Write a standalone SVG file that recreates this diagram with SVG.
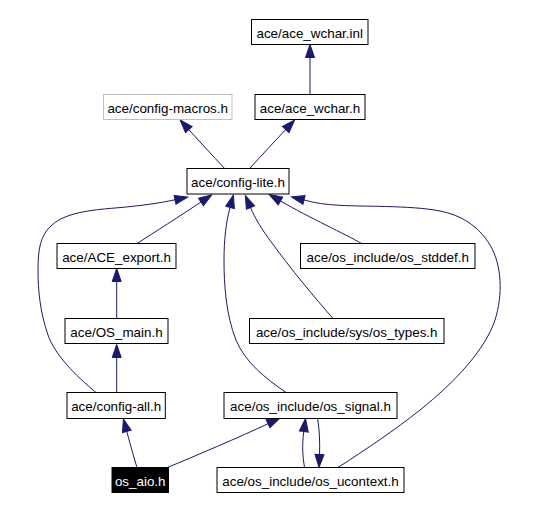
<svg xmlns="http://www.w3.org/2000/svg" width="544" height="510" viewBox="0 0 544 510">
<defs>
<marker id="ah" markerUnits="userSpaceOnUse" markerWidth="14" markerHeight="10" viewBox="0 0 14 10" refX="0" refY="5" orient="auto" overflow="visible">
<path d="M0,0.5 L13,5 L0,9.5 z" fill="#191970" stroke="#191970" stroke-width="1"/>
</marker>
<style>
.n rect{fill:#fff;stroke:#000;stroke-width:1}
.n text{font-family:"Liberation Sans",Arial,sans-serif;font-size:13.4px;text-anchor:middle;fill:#000}
#config_macros rect{stroke:#bfbfbf}
#os_aio rect{fill:#000}
#os_aio text{fill:#fff}
#edges path{fill:none;stroke:#191970;stroke-width:1;marker-end:url(#ah)}
</style>
</defs>
<rect width="544" height="510" fill="#fff"/>
<g id="edges">
<path d="M310,94.5 L310,57.5"/>
<path d="M224.6,168.5 C212,155 200,142 188.8,129.6"/>
<path d="M249.6,168.5 C262,155 274,142 285.7,129.5"/>
<path d="M137,243.5 C155,232 180,216 201,202"/>
<path d="M116.7,318.5 L116.7,281.5"/>
<path d="M116.7,392.5 L116.7,357.5"/>
<path d="M96,392.5 C75,375 55,355 48,335 C40,312 38,290 38,270 C38,250 40,235 52,225 C65,213 90,210 115,208 C140,206 160,203 175,199.8"/>
<path d="M286,392.5 C265,378 245,362 236,340 C226,315 224,285 224,260 C224,240 226,222 230,207.5"/>
<path d="M333,318.5 C315,298 290,268 272,243 C262,230 255,218 250.5,207.5"/>
<path d="M361.7,243.5 C345,234 310,218 280.5,201"/>
<path d="M338,467.5 C365,450 395,430 420,410 C455,382 485,350 495,320 C503,295 502,265 490,245 C478,225 460,215 440,211 C410,205 360,207 335,205 C320,204 312,202 304,200"/>
<path d="M137,467.5 C134,458 131,447 126.8,431.5"/>
<path d="M167.4,467.5 C195,456 240,437 268,423.7"/>
<path d="M304.5,467.5 C302.5,455 302,445 303.8,431.5"/>
<path d="M317.5,418 C319.5,430 320,442 319.5,454.5"/>
</g>
<g id="ace_wchar_inl" class="n"><rect x="251.5" y="19.5" width="116.5" height="25"/><text x="309.7" y="37.5">ace/ace_wchar.inl</text></g>
<g id="config_macros" class="n"><rect x="103.5" y="94.5" width="128.5" height="25"/><text x="167.7" y="112.5">ace/config-macros.h</text></g>
<g id="ace_wchar_h" class="n"><rect x="255" y="94.5" width="110" height="25"/><text x="310" y="112.5">ace/ace_wchar.h</text></g>
<g id="config_lite" class="n"><rect x="187" y="168.5" width="102" height="25.5"/><text x="238" y="186.7">ace/config-lite.h</text></g>
<g id="ace_export" class="n"><rect x="57" y="243.5" width="119" height="25"/><text x="116.5" y="261.7">ace/ACE_export.h</text></g>
<g id="os_stddef" class="n"><rect x="300.5" y="243.5" width="174.5" height="25"/><text x="387.7" y="261.7">ace/os_include/os_stddef.h</text></g>
<g id="os_main" class="n"><rect x="65" y="318.5" width="103" height="25"/><text x="116.5" y="336.7">ace/OS_main.h</text></g>
<g id="os_types" class="n"><rect x="249.5" y="318.5" width="194.5" height="25"/><text x="346.7" y="336.7">ace/os_include/sys/os_types.h</text></g>
<g id="config_all" class="n"><rect x="67" y="392.5" width="98.3" height="26"/><text x="116.2" y="411">ace/config-all.h</text></g>
<g id="os_signal" class="n"><rect x="224" y="392.5" width="173" height="26"/><text x="310.5" y="411">ace/os_include/os_signal.h</text></g>
<g id="os_aio" class="n"><rect x="112" y="467.5" width="56.5" height="25"/><text x="140.2" y="485.7">os_aio.h</text></g>
<g id="os_ucontext" class="n"><rect x="217" y="467.5" width="187" height="25"/><text x="310.5" y="485.7">ace/os_include/os_ucontext.h</text></g>
</svg>
